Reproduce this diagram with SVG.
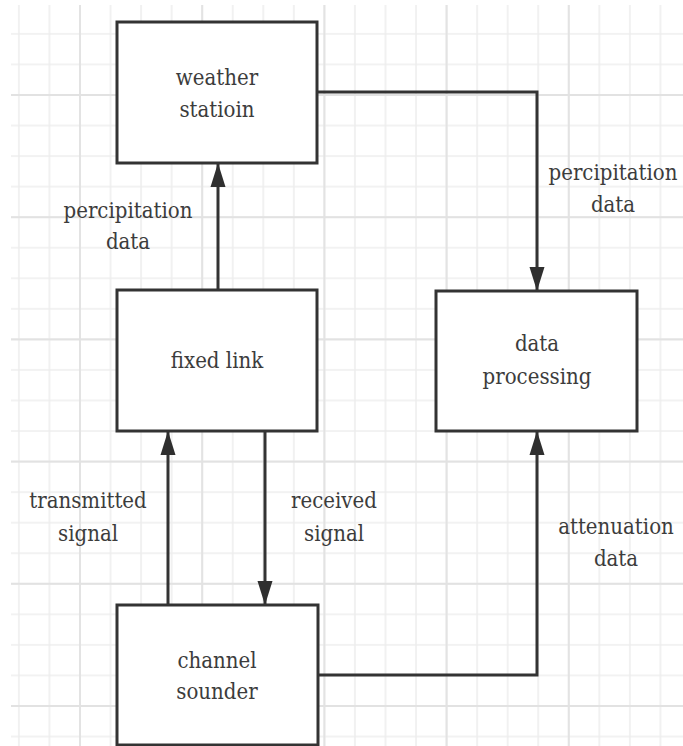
<svg xmlns="http://www.w3.org/2000/svg" width="683" height="746" viewBox="0 0 683 746">
  <defs>
    <!-- background grid: minor cells and every fourth line slightly darker -->
    <pattern id="gridMinor" patternUnits="userSpaceOnUse" x="79" y="94" width="30.55" height="30.55">
      <path d="M1 0 V30.55 M0 1 H30.55" fill="none" stroke="#eeeeee" stroke-width="1.6"/>
    </pattern>
    <pattern id="gridMajor" patternUnits="userSpaceOnUse" x="79" y="94" width="122.2" height="122.2">
      <path d="M1 0 V122.2 M0 1 H122.2" fill="none" stroke="#e2e2e2" stroke-width="1.8"/>
    </pattern>
    <marker id="arrow" markerUnits="userSpaceOnUse" markerWidth="26" markerHeight="16" refX="24" refY="8" orient="auto">
      <path d="M0 0.5 L24 8 L0 15.5 Z" fill="#2f2f2f"/>
    </marker>
    <style>
      .box { fill: #ffffff; stroke: #333333; stroke-width: 3; }
      .wire { fill: none; stroke: #333333; stroke-width: 3; }
      text { font-family: 'DejaVu Serif Condensed', 'DejaVu Serif', serif; font-size: 22px; fill: #3c3c3c; text-anchor: middle; }
    </style>
  </defs>

  <rect width="683" height="746" fill="#ffffff"/>
  <rect x="11" y="5" width="672" height="741" fill="url(#gridMinor)"/>
  <rect x="11" y="5" width="672" height="741" fill="url(#gridMajor)"/>

  <!-- connectors -->
  <g id="connectors">
    <path class="wire" d="M218 290 V163" marker-end="url(#arrow)"/>
    <path class="wire" d="M317 92 H537 V291" marker-end="url(#arrow)"/>
    <path class="wire" d="M168 605 V431" marker-end="url(#arrow)"/>
    <path class="wire" d="M265 431 V605" marker-end="url(#arrow)"/>
    <path class="wire" d="M318 675 H537 V431" marker-end="url(#arrow)"/>
    <g>
      <text x="128" y="218">percipitation</text>
      <text x="128" y="249">data</text>
      <text x="613" y="180">percipitation</text>
      <text x="613" y="212">data</text>
      <text x="88" y="508">transmitted</text>
      <text x="88" y="541">signal</text>
      <text x="334" y="508">received</text>
      <text x="334" y="541">signal</text>
      <text x="616" y="534">attenuation</text>
      <text x="616" y="566">data</text>
    </g>
  </g>

  <g id="weather-station">
    <rect class="box" x="117" y="22" width="200" height="141"/>
    <text x="217" y="85">weather</text>
    <text x="217" y="117">statioin</text>
  </g>

  <g id="fixed-link">
    <rect class="box" x="117" y="290" width="200" height="141"/>
    <text x="217" y="368">fixed link</text>
  </g>

  <g id="data-processing">
    <rect class="box" x="436" y="291" width="201" height="140"/>
    <text x="537" y="351">data</text>
    <text x="537" y="384">processing</text>
  </g>

  <g id="channel-sounder">
    <rect class="box" x="117" y="605" width="201" height="140"/>
    <text x="217" y="668">channel</text>
    <text x="217" y="699">sounder</text>
  </g>
</svg>
